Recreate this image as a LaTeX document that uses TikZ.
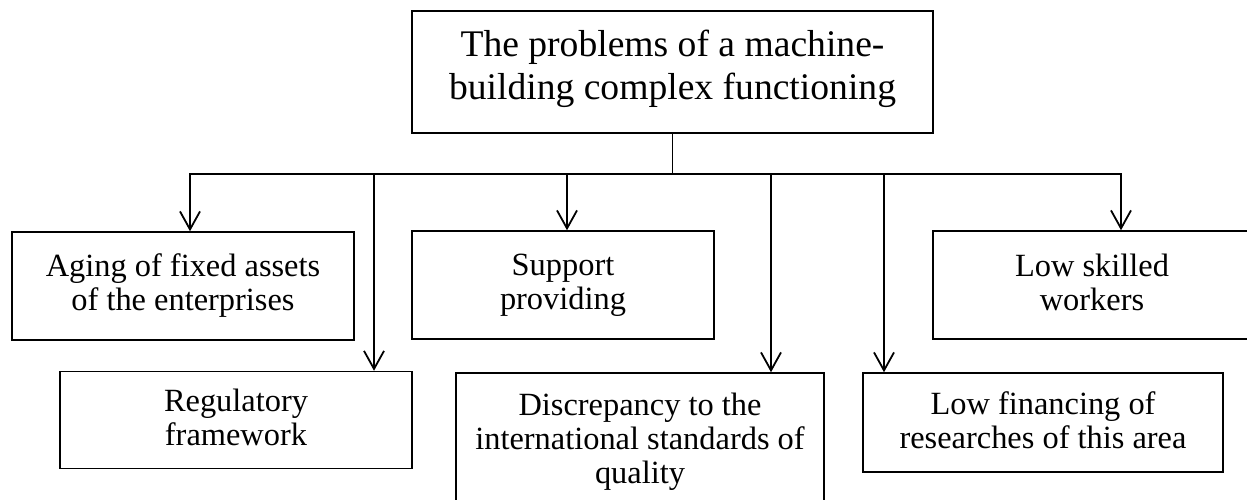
\documentclass[tikz,border=0pt]{standalone}
\usepackage{fontspec}
\setmainfont{Liberation Serif}
\usetikzlibrary{arrows.meta,positioning}
\tikzset{
  box/.style={draw, line width=0.75pt, align=center, inner sep=0pt},
  prob/.style={box, font=\fontsize{16.2}{17}\selectfont,
    execute at begin node={\rule{0pt}{11.7pt}},
    execute at end node={\rule[-2.5pt]{0pt}{0pt}}},
  head/.style={box, font=\fontsize{18.8}{21.6}\selectfont,
    execute at begin node={\rule{0pt}{13.4pt}},
    execute at end node={\rule[-7pt]{0pt}{0pt}}},
  link/.style={-{Straight Barb[length=9pt,width=10pt]}, line width=0.9pt},
  bus/.style={line width=0.9pt, line cap=rect},
}
\begin{document}
\begin{tikzpicture}[x=0.5pt, y=-0.5pt]
  \useasboundingbox (0,0) rectangle (1247,499);
  \node[head, minimum width=260.5pt, minimum height=61pt] (top) at (672.5,72) {The problems of a machine-\\building complex functioning};
  % first row
  \node[prob, minimum width=171pt, minimum height=54pt] (aging) at (183,286) {Aging of fixed assets\\of the enterprises};
  \node[prob, minimum width=151pt, minimum height=54pt] (supp) at (563,285) {Support\\providing};
  \node[prob, minimum width=159pt, minimum height=54pt] (skill) at (1092,285) {Low skilled\\workers};
  % second row
  \node[prob, minimum width=176pt, minimum height=48.5pt] (reg) at (236,420) {Regulatory\\framework};
  \node[prob, minimum width=184pt, minimum height=68.5pt] (disc) at (640,441.5) {Discrepancy to the\\international standards of\\quality};
  \node[prob, minimum width=180pt, minimum height=49.5pt] (fin) at (1043,422.5) {Low financing of\\researches of this area};
  % bus and drops
  \coordinate (b1) at (190,174);
  \coordinate (b2) at (374,174);
  \coordinate (b3) at (567,174);
  \coordinate (b4) at (771,174);
  \coordinate (b5) at (884,174);
  \coordinate (b6) at (1121,174);
  \draw[bus] (top.south) -- (top.south |- b1);
  \draw[bus] (b1) -- (b6);
  \foreach \b/\n in {b1/aging, b2/reg, b3/supp, b4/disc, b5/fin, b6/skill}
    \draw[link] (\b) -- (\b |- \n.north);
\end{tikzpicture}
\end{document}
